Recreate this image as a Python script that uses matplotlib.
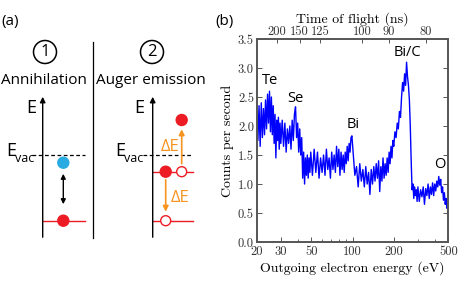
import matplotlib
matplotlib.use("Agg")
import matplotlib.pyplot as plt
from matplotlib.patches import Circle
from matplotlib.ticker import FixedLocator, NullFormatter

plt.rcParams["axes.formatter.use_mathtext"] = True

# --- spectrum data ---
energy = [20.0, 20.4, 20.8, 21.2, 21.6, 22.0, 22.4, 22.8, 23.2, 23.6, 24.0, 24.4, 24.8,
          25.2, 25.6, 26.0, 26.4, 26.8, 27.2, 27.6, 28.0, 28.4, 28.8, 29.2, 29.6,
          30.0, 30.7, 31.4, 32.1, 32.8, 33.5, 34.2, 34.9, 35.6, 36.3, 37.0, 37.7, 38.4,
          39.1, 39.8, 40.5, 41.2, 41.9, 42.6, 43.3, 44.0, 44.7, 45.4, 46.1, 46.8, 47.5,
          48.2, 48.9, 49.6,
          51, 52.5, 54, 55.5, 57, 58.5, 60, 61.5, 63, 64.5, 66, 67.5, 69, 70.5, 72, 73.5,
          75, 76.5, 78, 79.5, 81, 82.5, 84, 85.5, 87, 88.5, 90, 91.5, 93, 94.5, 96, 97.5, 99,
          101, 104, 107, 110, 113, 116, 119, 122, 125, 128, 131, 134, 137, 140, 143, 146,
          149, 152, 155, 158, 161, 164, 167, 170, 173, 176, 179, 182, 185, 188, 191, 194, 197,
          200, 204, 208, 212, 216, 220, 224, 228, 232, 236, 240, 244, 248, 252, 256, 260,
          264, 268, 272, 276, 280, 284, 288, 292, 296,
          300, 307, 314, 321, 328, 335, 342, 349, 356, 363, 370, 377, 384, 391, 398, 405,
          412, 419, 426, 433, 440, 447, 454, 461, 468, 475, 482, 489, 496, 500]
counts = [2.15, 1.75, 2.35, 1.65, 2.40, 1.80, 2.30, 1.85, 2.45, 1.95, 2.55, 2.05, 2.60,
          1.90, 2.50, 1.85, 2.35, 1.70, 2.20, 1.45, 2.10, 1.75, 2.15, 1.60, 2.05,
          1.70, 2.10, 1.65, 2.05, 1.55, 1.95, 1.70, 2.00, 1.60, 2.10, 1.75, 2.20, 2.33,
          1.80, 2.05, 1.55, 1.95, 1.50, 1.80, 1.10, 1.55, 1.00, 1.45, 1.15, 1.50, 1.10,
          1.45, 1.20, 1.55,
          1.15, 1.60, 1.20, 1.55, 1.10, 1.45, 1.20, 1.50, 1.15, 1.60, 1.25, 1.45, 1.10, 1.55,
          1.25, 1.50, 1.20, 1.65, 1.30, 1.60, 1.15, 1.55, 1.25, 1.50, 1.20, 1.55, 1.35, 1.65,
          1.40, 1.70, 1.55, 1.80, 1.83,
          1.55, 1.15, 1.30, 0.95, 1.35, 1.05, 1.25, 0.95, 1.30, 1.00, 1.20, 0.82, 1.25, 1.00,
          1.30, 1.05, 1.35, 1.10, 1.40, 0.87, 1.30, 1.05, 1.45, 1.10, 1.35, 1.15, 1.45, 1.20,
          1.55, 1.35, 1.65, 1.45, 1.75,
          1.65, 1.90, 1.80, 2.05, 1.95, 2.25, 2.15, 2.50, 2.75, 2.60, 2.90, 2.70, 3.10, 2.85,
          2.70, 2.45, 2.00, 1.40, 0.90, 1.00, 0.75, 0.95, 0.80, 0.90, 0.70,
          0.95, 0.70, 0.90, 0.78, 0.95, 0.65, 0.92, 0.80, 1.00, 0.75, 0.95, 0.82, 1.02, 0.80,
          1.00, 0.88, 1.05, 0.95, 1.13, 0.98, 1.08, 0.85, 0.95, 0.72, 0.85, 0.65, 0.75, 0.58,
          0.62, 0.50]

peak_names = ["Te", "Se", "Bi", "Bi/C", "O"]
peak_x = [25.0, 38.4, 100.4, 250, 435]
peak_y = [2.79, 2.48, 2.02, 3.26, 1.33]

bottom_ticks = [20, 30, 50, 100, 200, 500]
minor_ticks = [40, 60, 70, 80, 90, 300, 400]
tof_labels = ["200", "150", "125", "100", "90", "80"]
tof_energy = [27.9, 41.2, 58.3, 117.4, 184.8, 342]

red = "#ED1C24"
blue_dot = "#29ABE2"
orange = "#F7931E"
sans = "Open Sans"

fig = plt.figure(figsize=(4.69, 2.86), dpi=100)

# --- panel (a): schematic, drawn in pixel units ---
axa = fig.add_axes([0, 0, 1, 1])
axa.set_xlim(0, 469)
axa.set_ylim(286, 0)
axa.axis("off")

evac_y = 155
low_y = 220.7
mid_y = 171.7
top_y = 120

axa.text(10, 22, "(a)", fontsize=11, family=sans, ha="center", va="center")
axa.text(225, 22, "(b)", fontsize=11, family=sans, ha="center", va="center")

# separator
axa.plot([93.3, 93.3], [41.7, 238], color="k", lw=0.9)

for cx, num in [(45, "1"), (152, "2")]:
    axa.add_patch(Circle((cx, 52), 11.5, fill=False, ec="k", lw=1.1))
    axa.text(cx, 52.5, num, fontsize=12, family=sans, ha="center", va="center")

axa.text(43.5, 81, "Annihilation", fontsize=11, family=sans, ha="center", va="center")
axa.text(151, 81, "Auger emission", fontsize=11, family=sans, ha="center", va="center")

for ax_x, lab_x in [(42.7, 31.7), (152.7, 139)]:
    axa.annotate("", xy=(ax_x, 94), xytext=(ax_x, 240),
                 arrowprops=dict(arrowstyle="-|>", color="k", lw=1.0, mutation_scale=8))
    axa.text(lab_x, 108, "E", fontsize=13, family=sans, ha="center", va="center")

# E_vac labels and dashed lines
axa.text(11, 151, "E", fontsize=13, family=sans, ha="center", va="center")
axa.text(25, 159, "vac", fontsize=9, family=sans, ha="center", va="center")
axa.plot([31.7, 85], [evac_y, evac_y], color="k", lw=0.9, ls=(0, (3, 2)))
axa.text(120, 151, "E", fontsize=13, family=sans, ha="center", va="center")
axa.text(134, 159, "vac", fontsize=9, family=sans, ha="center", va="center")
axa.plot([143, 193], [evac_y, evac_y], color="k", lw=0.9, ls=(0, (3, 2)))

# panel 1: annihilation
axa.plot([43.3, 85], [low_y, low_y], color=red, lw=1.0)
axa.add_patch(Circle((63.3, low_y), 5.5, color=red, zorder=3))
axa.add_patch(Circle((63.3, 162.7), 5.5, color=blue_dot, zorder=3))
axa.annotate("", xy=(63.3, 171), xytext=(63.3, 207),
             arrowprops=dict(arrowstyle="<|-|>", color="k", lw=1.0, mutation_scale=7))

# panel 2: Auger emission
axa.plot([152.7, 193], [mid_y, mid_y], color=red, lw=1.0)
axa.plot([152.7, 193], [low_y, low_y], color=red, lw=1.0)
axa.add_patch(Circle((165.7, mid_y), 5.5, color=red, zorder=3))
axa.add_patch(Circle((181.7, mid_y), 5.0, fc="white", ec=red, lw=1.0, zorder=3))
axa.add_patch(Circle((165.7, low_y), 5.0, fc="white", ec=red, lw=1.0, zorder=3))
axa.add_patch(Circle((181.7, top_y), 5.5, color=red, zorder=3))
axa.annotate("", xy=(181.7, 126.5), xytext=(181.7, 166.5),
             arrowprops=dict(arrowstyle="-|>", color=orange, lw=1.2, mutation_scale=8))
axa.annotate("", xy=(165.7, 214.5), xytext=(165.7, 177),
             arrowprops=dict(arrowstyle="-|>", color=orange, lw=1.2, mutation_scale=8))
axa.text(170, 147, "\u0394E", fontsize=12, family=sans, color=orange, ha="center", va="center")
axa.text(180, 198, "\u0394E", fontsize=12, family=sans, color=orange, ha="center", va="center")

# --- panel (b): spectrum ---
ax = fig.add_axes([256.7 / 469, 44 / 286, 191.6 / 469, 203 / 286])
ax.plot(energy, counts, color="#0000FF", lw=1.0)
ax.set_xscale("log")
ax.set_xlim(20, 500)
ax.set_ylim(0, 3.5)

ax.xaxis.set_major_locator(FixedLocator(bottom_ticks))
ax.xaxis.set_minor_locator(FixedLocator(minor_ticks))
ax.xaxis.set_minor_formatter(NullFormatter())
ax.set_xticklabels([str(t) for t in bottom_ticks])
ax.set_yticks([0, 0.5, 1.0, 1.5, 2.0, 2.5, 3.0, 3.5])
ax.set_yticklabels(["0.0", "0.5", "1.0", "1.5", "2.0", "2.5", "3.0", "3.5"])

for name, px, py in zip(peak_names, peak_x, peak_y):
    ax.text(px, py, name, fontsize=10.5, family=sans, ha="center", va="center")

ax.set_xlabel("Outgoing electron energy (eV)", family="cmr10", fontsize=10, labelpad=2)
ax.set_ylabel("Counts per second", family="cmr10", fontsize=10, labelpad=3)

# top axis in time of flight
ax2 = ax.twiny()
ax2.set_xscale("log")
ax2.set_xlim(20, 500)
ax2.xaxis.set_major_locator(FixedLocator(tof_energy))
ax2.xaxis.set_minor_locator(FixedLocator([]))
ax2.set_xticklabels(tof_labels)
ax2.set_xlabel("Time of flight (ns)", family="cmr10", fontsize=10, labelpad=2)

for a in (ax, ax2):
    for s in a.spines.values():
        s.set_color("#555555")
        s.set_linewidth(1.2)
    for lab in a.get_xticklabels() + a.get_yticklabels():
        lab.set_family("cmr10")
        lab.set_fontsize(9)
        lab.set_color("#333333")
ax.tick_params(which="both", direction="in", top=False, right=True, color="#555555")
ax.tick_params(axis="x", pad=3)
ax.tick_params(axis="y", pad=2)
ax.tick_params(which="major", length=3.5, width=0.7)
ax.tick_params(which="minor", length=2, width=0.6)
ax2.tick_params(which="both", direction="in", color="#555555", length=3, width=0.7, pad=1)

fig.savefig("out.png", dpi=100)
